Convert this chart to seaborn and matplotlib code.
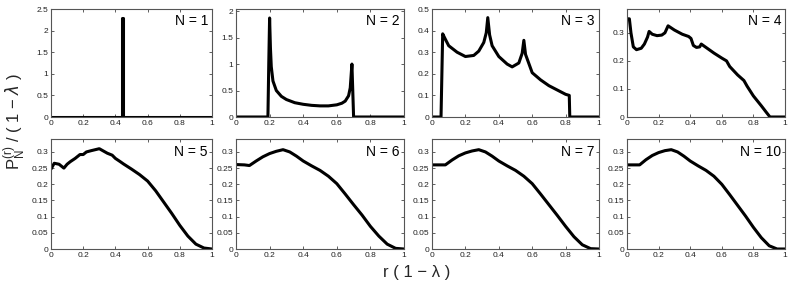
import numpy as np
import pandas as pd
import matplotlib
matplotlib.use("Agg")
import matplotlib.pyplot as plt
import seaborn as sns
from matplotlib.ticker import FuncFormatter

# ---- data ----
n_labels = ["N = 1", "N = 2", "N = 3", "N = 4", "N = 5", "N = 6", "N = 7", "N = 10"]

x_n1 = [0, 0.44, 0.44, 0.445, 0.445, 1.0]
y_n1 = [0, 0, 2.3, 2.3, 0, 0]

x_n2 = [0, 0.19, 0.195, 0.2, 0.205, 0.21, 0.22, 0.24, 0.27, 0.3, 0.35, 0.4, 0.45,
        0.5, 0.55, 0.6, 0.63, 0.65, 0.67, 0.68, 0.69, 0.695, 0.70, 1.0]
y_n2 = [0, 0, 1.0, 1.87, 1.3, 0.95, 0.68, 0.5, 0.39, 0.33, 0.27, 0.24, 0.22,
        0.21, 0.21, 0.23, 0.26, 0.3, 0.4, 0.55, 1.0, 0.5, 0, 0]

x_n3 = [0, 0.054, 0.064, 0.08, 0.1, 0.15, 0.2, 0.25, 0.28, 0.31, 0.325, 0.334,
        0.345, 0.36, 0.4, 0.45, 0.48, 0.52, 0.54, 0.55, 0.56, 0.6, 0.65, 0.7,
        0.75, 0.8, 0.822, 0.825, 1.0]
y_n3 = [0, 0, 0.385, 0.36, 0.33, 0.3, 0.28, 0.285, 0.305, 0.345, 0.39, 0.46,
        0.38, 0.33, 0.28, 0.245, 0.232, 0.25, 0.295, 0.355, 0.29, 0.205, 0.172, 0.145,
        0.125, 0.105, 0.1, 0, 0]

x_n4 = [0, 0.015, 0.025, 0.04, 0.06, 0.09, 0.11, 0.13, 0.14, 0.16, 0.19, 0.22,
        0.24, 0.26, 0.3, 0.35, 0.39, 0.405, 0.42, 0.44, 0.46, 0.47, 0.5, 0.55,
        0.6, 0.63, 0.65, 0.7, 0.74, 0.76, 0.8, 0.85, 0.88, 0.905, 1.0]
y_n4 = [0.35, 0.35, 0.3, 0.25, 0.24, 0.245, 0.26, 0.285, 0.305, 0.295, 0.29, 0.292,
        0.3, 0.325, 0.31, 0.295, 0.287, 0.28, 0.255, 0.248, 0.25, 0.26, 0.248, 0.228,
        0.21, 0.2, 0.18, 0.15, 0.13, 0.11, 0.075, 0.04, 0.018, 0, 0]

x_n5 = [0, 0.02, 0.05, 0.08, 0.1, 0.12, 0.15, 0.18, 0.2, 0.22, 0.25, 0.3, 0.35,
        0.38, 0.4, 0.43, 0.45, 0.5, 0.55, 0.6, 0.65, 0.7, 0.75, 0.8, 0.85, 0.9,
        0.95, 1.0]
y_n5 = [0.247, 0.265, 0.262, 0.25, 0.262, 0.27, 0.28, 0.292, 0.292, 0.3, 0.304, 0.31, 0.296,
        0.29, 0.28, 0.27, 0.263, 0.247, 0.23, 0.21, 0.18, 0.145, 0.11, 0.073, 0.04, 0.015,
        0.003, 0]

x_smooth = [0, 0.05, 0.08, 0.12, 0.16, 0.2, 0.24, 0.28, 0.32, 0.36, 0.4, 0.45, 0.5,
            0.55, 0.6, 0.65, 0.7, 0.75, 0.8, 0.85, 0.9, 0.95, 1.0]
y_n6 = [0.261, 0.26, 0.258, 0.272, 0.285, 0.295, 0.302, 0.307, 0.3, 0.287, 0.272,
        0.257, 0.243, 0.225, 0.202, 0.17, 0.137, 0.105, 0.07, 0.04, 0.015, 0.002, 0]
y_n7 = [0.26, 0.26, 0.26, 0.275, 0.288, 0.297, 0.303, 0.307, 0.3, 0.287, 0.272,
        0.257, 0.243, 0.225, 0.202, 0.17, 0.137, 0.104, 0.07, 0.038, 0.013, 0.001, 0]
y_n10 = [0.26, 0.26, 0.26, 0.276, 0.289, 0.298, 0.304, 0.307, 0.3, 0.287, 0.272,
         0.257, 0.243, 0.225, 0.2, 0.168, 0.135, 0.102, 0.067, 0.035, 0.01, 0.0, 0]

curves = [(x_n1, y_n1), (x_n2, y_n2), (x_n3, y_n3), (x_n4, y_n4),
          (x_n5, y_n5), (x_smooth, y_n6), (x_smooth, y_n7), (x_smooth, y_n10)]

y_limits = [2.5, 2.04, 0.5, 0.385, 0.34, 0.34, 0.34, 0.34]
y_steps = [0.5, 0.5, 0.1, 0.1, 0.05, 0.05, 0.05, 0.05]

# ---- style ----
sns.set_style("ticks")
plt.rcParams['font.family'] = ['Liberation Sans', 'DejaVu Sans']
plt.rcParams['mathtext.fontset'] = 'custom'
plt.rcParams['mathtext.rm'] = 'Liberation Sans'

fig = plt.figure(figsize=(7.89, 2.89), dpi=100)
W, H = 789.0, 289.0

lefts = [51, 236, 432, 627]
widths = [161, 168, 167, 158]
rows = [(9, 117), (139, 249)]

fmt = FuncFormatter(lambda v, p: f"{v:g}")

for i, (label, (xs, ys)) in enumerate(zip(n_labels, curves)):
    r, c = divmod(i, 4)
    top, bot = rows[r]
    ax = fig.add_axes([lefts[c] / W, (H - bot) / H, widths[c] / W, (bot - top) / H])
    df = pd.DataFrame({"x": xs, "y": ys})
    sns.lineplot(data=df, x="x", y="y", ax=ax, color="black", linewidth=2.2,
                 estimator=None, sort=False)
    ax.set_xlim(0, 1)
    ax.set_ylim(0, y_limits[i])
    ax.set_xticks(np.arange(0, 1.01, 0.2))
    ax.set_yticks(np.arange(0, y_limits[i] + 1e-6, y_steps[i]))
    ax.xaxis.set_major_formatter(fmt)
    ax.yaxis.set_major_formatter(fmt)
    ax.tick_params(direction="in", length=2.5, width=0.6, labelsize=6, pad=2,
                   top=True, right=True, colors="#444444", labelcolor="#222222")
    for s in ax.spines.values():
        s.set_color("#555555")
        s.set_linewidth(0.8)
    ax.set_xlabel("")
    ax.set_ylabel("")
    ax.text(0.975, 0.95, label, transform=ax.transAxes, ha="right", va="top",
            fontsize=10, color="black")

fig.text(417 / W, 1 - 272 / H, "r ( 1 \u2212 \u03bb )", ha="center", va="center", fontsize=12)
fig.text(15 / W, 1 - 122 / H,
         r"P$_\mathregular{N}^\mathregular{(r)}$ / ( 1 $-$ $\lambda$ )",
         ha="center", va="center", rotation=90, fontsize=12)

fig.savefig("out.png", dpi=100)
